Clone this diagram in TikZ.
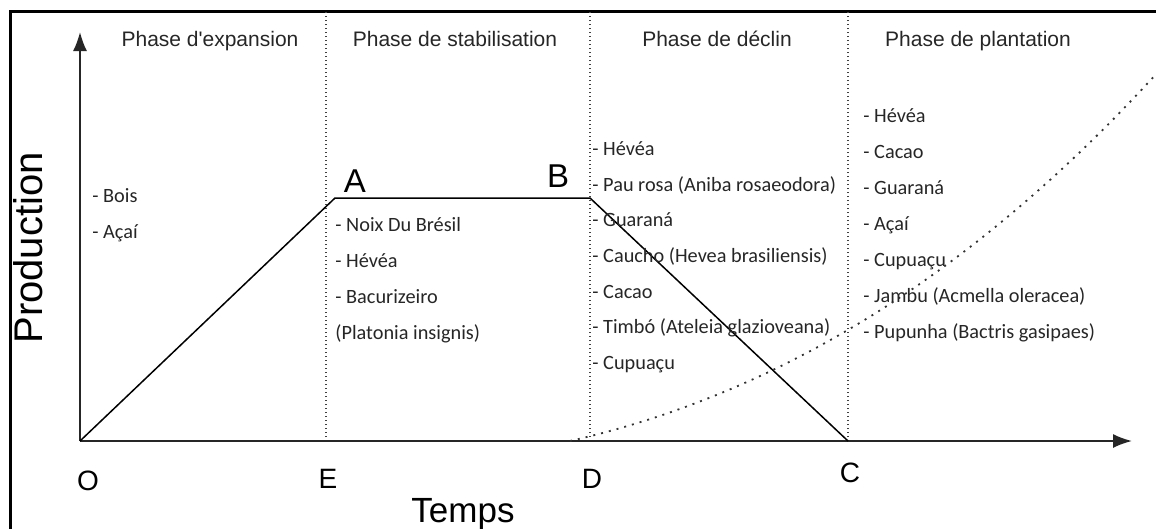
\documentclass[tikz,border=0pt]{standalone}
\usepackage{fontspec}
\setmainfont{Liberation Sans}
\newfontfamily\itemfont{Carlito}
\usetikzlibrary{arrows.meta}

\begin{document}
\begin{tikzpicture}[x=1pt,y=-1pt,thick,
	phase/.style={anchor=base,inner sep=0pt,text=black!85,font=\fontsize{21}{21}\selectfont},
	item/.style={anchor=base west,inner sep=0pt,text=black!85,font=\itemfont\fontsize{20.3}{20}\selectfont},
	point/.style={anchor=base,inner sep=0pt,font=\fontsize{28}{28}\selectfont},
	sep/.style={black!75,line width=1.5pt,dash pattern=on 1.5pt off 2.5pt},
	axis/.style={line width=1.8pt,black!85,-{Latex[length=19pt,width=14pt]}}]
			\useasboundingbox (0,0) rectangle (1156,528);
			\draw[line width=3pt] (10,11) rectangle (1180,550);
			\coordinate (top) at (0,11);
			\coordinate (O) at (80,441);
			\coordinate (E) at (326,441);
			\coordinate (D) at (590,441);
			\coordinate (C) at (848,441);
			\coordinate (A) at (335,198);
			\coordinate (B) at (590,198);
			\coordinate (xend) at (1132,441);
			\coordinate (yend) at (80,32);
			\coordinate (g0) at (570,441);
			\coordinate (g1) at (1158,72);
			\draw[sep] (E) -- (E |- top);
			\draw[sep] (D) -- (D |- top);
			\draw[sep] (C) -- (C |- top);
			\draw[axis] (O) -- (xend);
			\draw[axis] (O) -- (yend);
			\draw[line width=1.5pt] (O) -- (A) -- (B) -- (C);
			\draw[black!80,line width=1.8pt,dash pattern=on 2pt off 6pt] (g0) .. controls (750,400) and (950,300) .. (g1);
			\node[phase] (t1) at (210,46) {Phase d\textquotesingle expansion};
			\node[phase] (t2) at (455,46) {Phase de stabilisation};
			\node[phase] (t3) at (717,46) {Phase de déclin};
			\node[phase] (t4) at (978,46) {Phase de plantation};
			\node[point] (lO) at (88,490) {O};
			\node[point] (lE) at (328,488) {E};
			\node[point] (lD) at (592,488) {D};
			\node[point] (lC) at (850,482) {C};
			\node[point,font=\fontsize{33}{33}\selectfont] (lA) at (355,192) {A};
			\node[point,font=\fontsize{33}{33}\selectfont] (lB) at (558,187) {B};
			\node[anchor=base,inner sep=0pt,font=\fontsize{35}{35}\selectfont] (temps) at (463,522) {Temps};
			\node[anchor=base,inner sep=0pt,rotate=90,font=\fontsize{40}{40}\selectfont] (prod) at (42,248) {Production};
			\foreach \y/\t [count=\i] in {202/- Bois,238/- Açaí}
				\node[item] (p1-\i) at (92,\y) {\t};
			\foreach \y/\t [count=\i] in {231/- Noix Du Brésil,267/- Hévéa,303/- Bacurizeiro,339/(Platonia insignis)}
				\node[item] (p2-\i) at (335,\y) {\t};
			\foreach \y/\t [count=\i] in {155/- Hévéa,191/- Pau rosa (Aniba rosaeodora),226/- Guaraná,262/- Caucho (Hevea brasiliensis),298/- Cacao,333/- Timbó (Ateleia glazioveana),369/- Cupuaçu}
				\node[item] (p3-\i) at (592,\y) {\t};
			\foreach \y/\t [count=\i] in {122/- Hévéa,158/- Cacao,194/- Guaraná,230/- Açaí,266/- Cupuaçu,302/- Jambu (Acmella oleracea),338/- Pupunha (Bactris gasipaes)}
				\node[item] (p4-\i) at (863,\y) {\t};
		\end{tikzpicture}
\end{document}
